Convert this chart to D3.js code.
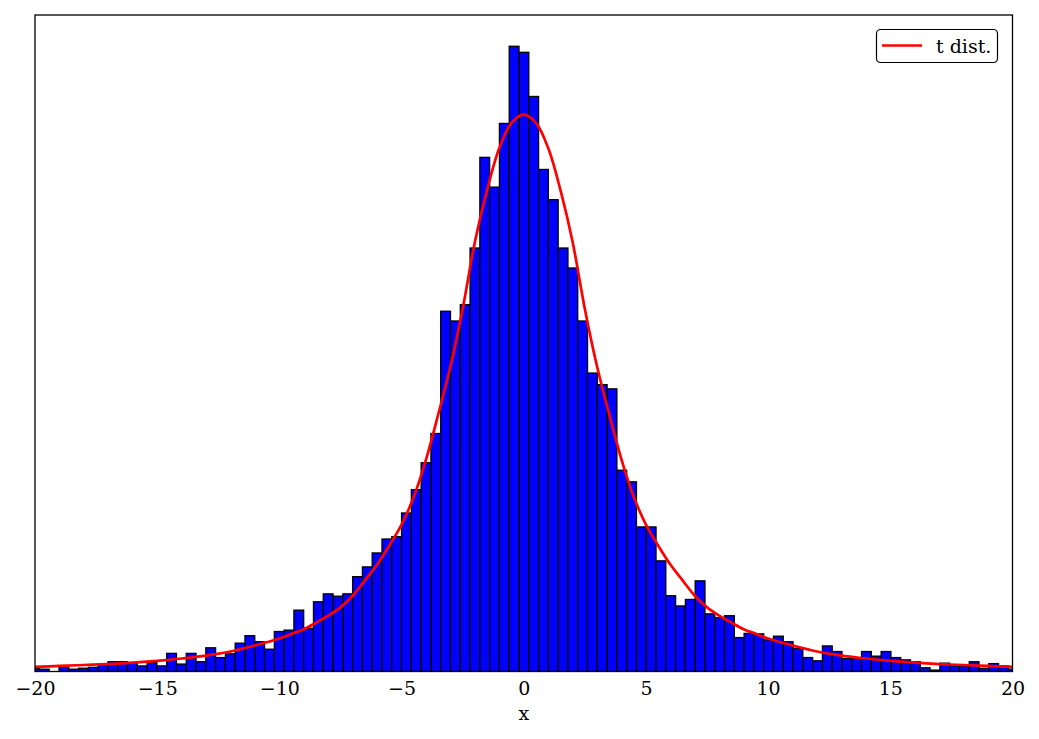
<!DOCTYPE html>
<html>
<head>
<meta charset="utf-8">
<script src="https://cdn.jsdelivr.net/npm/d3@7"></script>
<style>
  html, body { margin: 0; padding: 0; background: #fff; }
  svg { display: block; }
  text { font-family: "DejaVu Serif", serif; }
</style>
</head>
<body>
<svg id="chart" width="1039" height="739"></svg>
<script>
// ---- data ----
const binStart = -20.219;   // left edge of first (partially visible) bin
const binWidth = 0.4005;
const density = [
  0.0007, 0.0005, 0.0000, 0.0009, 0.0005, 0.0007, 0.0009, 0.0014, 0.0021, 0.0021,
  0.0018, 0.0012, 0.0019, 0.0012, 0.0039, 0.0016, 0.0039, 0.0021, 0.0051, 0.0030,
  0.0038, 0.0061, 0.0077, 0.0064, 0.0048, 0.0086, 0.0089, 0.0132, 0.0093, 0.0150,
  0.0167, 0.0162, 0.0167, 0.0204, 0.0225, 0.0255, 0.0285, 0.0290, 0.0341, 0.0391,
  0.0449, 0.0512, 0.0775, 0.0754, 0.0789, 0.0911, 0.1106, 0.1042, 0.1179, 0.1345,
  0.1332, 0.1237, 0.1080, 0.1015, 0.0911, 0.0868, 0.0754, 0.0642, 0.0617, 0.0608,
  0.0433, 0.0408, 0.0311, 0.0311, 0.0238, 0.0163, 0.0141, 0.0155, 0.0195, 0.0124,
  0.0116, 0.0120, 0.0073, 0.0082, 0.0081, 0.0068, 0.0076, 0.0064, 0.0050, 0.0030,
  0.0023, 0.0055, 0.0043, 0.0028, 0.0028, 0.0043, 0.0033, 0.0043, 0.0030, 0.0025,
  0.0021, 0.0008, 0.0003, 0.0018, 0.0012, 0.0012, 0.0021, 0.0007, 0.0017, 0.0012,
  0.0005
];

const curveX = [
  -20, -19, -18, -17, -16, -15, -14, -13, -12, -11,
  -10, -9.5, -9, -8.5, -8, -7.5, -7, -6.5, -6, -5.5, -5, -4.5, -4, -3.5, -3, -2.5, -2, -1.5, -1, -0.5,
  0,
  0.5, 1, 1.5, 2, 2.5, 3, 3.5, 4, 4.5, 5, 5.5, 6, 6.5, 7, 7.5, 8, 8.5, 9, 9.5, 10,
  11, 12, 13, 14, 15, 16, 17, 18, 19, 20
];
const curveY = [
  0.0010, 0.0012, 0.0014, 0.0016, 0.0019, 0.0023, 0.0028, 0.0034, 0.0043, 0.0056,
  0.0071, 0.0081, 0.0091, 0.0105, 0.0120, 0.0138, 0.0163, 0.0196, 0.0230, 0.0271, 0.0316, 0.0376, 0.0456, 0.0553, 0.0656, 0.0780, 0.0924, 0.1036, 0.1126, 0.1180,
  0.1198,
  0.1180, 0.1126, 0.1036, 0.0924, 0.0780, 0.0656, 0.0553, 0.0456, 0.0376, 0.0316, 0.0271, 0.0230, 0.0196, 0.0163, 0.0138, 0.0120, 0.0105, 0.0091, 0.0081, 0.0071,
  0.0056, 0.0043, 0.0034, 0.0028, 0.0023, 0.0019, 0.0016, 0.0014, 0.0012, 0.0010
];

const xTicks = [-20, -15, -10, -5, 0, 5, 10, 15, 20];
const xDomain = [-20, 20];
const xLabel = "x";
const legendLabel = "t dist.";

// ---- layout ----
const L = 35, R = 1012.5, T = 15, B = 671.5;
const FS = "19px";
const svg = d3.select("#chart");

const x = d3.scaleLinear().domain(xDomain).range([L, R]);
const y = d3.scaleLinear().domain([0, d3.max(density) * 1.05]).range([B, T]);

svg.append("defs").append("clipPath").attr("id", "plotclip")
  .append("rect").attr("x", L).attr("y", T).attr("width", R - L).attr("height", B - T);

const plot = svg.append("g").attr("clip-path", "url(#plotclip)");

// bars
plot.append("g").selectAll("rect")
  .data(density)
  .join("rect")
  .attr("x", (d, i) => x(binStart + i * binWidth))
  .attr("width", (d, i) => x(binStart + (i + 1) * binWidth) - x(binStart + i * binWidth))
  .attr("y", d => y(d))
  .attr("height", d => y(0) - y(d))
  .attr("fill", "#0000ff")
  .attr("stroke", "#000")
  .attr("stroke-width", 1.3);

// t distribution curve
const pts = curveX.map((v, i) => [v, curveY[i]]);
plot.append("path")
  .datum(pts)
  .attr("fill", "none")
  .attr("stroke", "#ff0000")
  .attr("stroke-width", 2.7)
  .attr("stroke-linejoin", "round")
  .attr("d", d3.line().x(d => x(d[0])).y(d => y(d[1])).curve(d3.curveCatmullRom.alpha(0.5)));

// frame
svg.append("rect")
  .attr("x", L).attr("y", T).attr("width", R - L).attr("height", B - T)
  .attr("fill", "none").attr("stroke", "#000").attr("stroke-width", 1.3);

// x axis
const ax = svg.append("g")
  .attr("transform", `translate(0,${B})`)
  .call(d3.axisBottom(x).tickValues(xTicks).tickSize(0).tickPadding(10));
ax.select(".domain").remove();
ax.selectAll("text")
  .attr("font-family", "DejaVu Serif")
  .attr("font-size", FS)
  .attr("fill", "#000");

svg.append("text")
  .attr("x", (L + R) / 2)
  .attr("y", 720)
  .attr("text-anchor", "middle")
  .attr("font-size", FS)
  .attr("fill", "#000")
  .text(xLabel);

// legend
const lg = svg.append("g");
lg.append("rect")
  .attr("x", 876.5).attr("y", 29.5).attr("width", 121).attr("height", 33).attr("rx", 4)
  .attr("fill", "#fff").attr("stroke", "#000").attr("stroke-width", 1.2);
lg.append("line")
  .attr("x1", 882).attr("x2", 922).attr("y1", 45.5).attr("y2", 45.5)
  .attr("stroke", "#ff0000").attr("stroke-width", 2.7);
lg.append("text")
  .attr("x", 936).attr("y", 53)
  .attr("font-size", FS).attr("fill", "#000")
  .text(legendLabel);
</script>
</body>
</html>
